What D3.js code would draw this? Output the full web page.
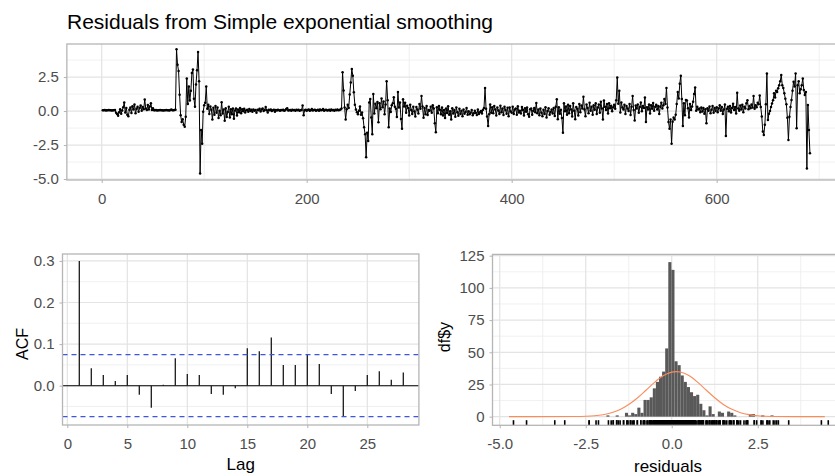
<!DOCTYPE html>
<html><head><meta charset="utf-8">
<script src="https://cdn.jsdelivr.net/npm/d3@7"></script>
<style>
html,body{margin:0;padding:0;background:#fff;}
svg text{font-family:"Liberation Sans",Arial,sans-serif;}
</style></head>
<body><svg id="c" width="835" height="476"></svg>
<script>
// ---- data ----
const title = "Residuals from Simple exponential smoothing";
const residuals = [
0.06,0.05,0.07,0.04,0.06,0.05,0.07,0.05,0.06,0.04,
0.06,0.05,0.07,-0.12,-0.21,-0.35,-0.08,0.13,-0.19,0.04,
0.28,0.62,-0.11,0.22,-0.27,-0.38,0.09,0.26,-0.14,0.36,
0.12,0.48,-0.17,0.16,0.31,-0.06,0.23,0.41,0.03,0.29,
0.14,0.85,0.18,0.07,0.44,0.11,0.33,0.58,0.08,0.21,
0.06,0.05,0.07,0.04,0.06,0.05,0.07,0.05,0.06,0.04,
0.06,0.05,0.07,0.05,0.06,0.04,0.07,0.11,0.06,0.05,
0.08,0.1,4.55,3.4,2.95,1.2,-0.3,-0.8,-0.6,-1.0,
-1.15,-0.42,2.4,0.52,1.8,0.78,1.5,2.8,3.05,0.9,
0.31,1.95,3.0,4.35,2.2,-4.6,-1.4,-2.4,-0.05,0.43,
0.61,1.8,0.17,0.47,-0.22,0.33,0.09,-0.63,0.24,-0.28,
0.38,-0.13,0.27,-0.52,0.02,-0.31,0.65,-0.18,0.12,-0.72,
0.21,-0.43,-0.07,0.32,-0.48,0.14,-0.23,0.19,-0.57,0.04,
0.18,-0.33,0.11,-0.09,0.22,-0.16,0.13,-0.02,0.17,-0.11,
0.05,0.1,-0.05,0.15,0.0,0.1,-0.05,0.12,0.02,0.08,
-0.12,0.09,0.05,0.16,-0.04,0.11,0.19,0.01,0.08,0.29,
0.05,-0.1,0.1,0.05,0.12,0.0,0.06,0.1,-0.05,0.08,
0.04,0.1,0.06,0.02,0.08,0.05,0.1,0.03,0.06,0.15,
0.2,0.04,0.06,0.08,0.02,0.1,0.05,0.07,0.03,0.09,
0.05,0.1,0.02,0.06,0.08,0.4,-0.3,0.05,0.1,0.03,
0.07,0.12,0.02,0.06,0.15,0.04,0.08,0.1,0.02,0.06,
0.09,0.03,0.12,0.05,0.07,0.15,0.02,0.08,0.1,0.04,
0.06,0.1,0.03,0.12,0.05,0.08,0.02,0.1,0.06,0.12,
0.05,0.08,0.11,0.19,2.85,1.52,0.27,-0.62,0.13,0.46,
0.23,1.21,2.1,3.1,2.6,1.38,0.47,0.12,-0.09,-0.24,
0.02,0.34,-0.28,-0.11,-0.53,-1.2,-1.7,-3.4,-1.6,-2.2,
0.62,0.88,-0.47,-1.7,1.25,-0.18,0.53,0.21,0.67,-0.83,
0.57,0.13,0.92,0.28,0.71,-0.23,0.49,2.2,0.79,-1.2,
0.18,-0.07,0.42,0.58,1.02,0.31,0.16,-0.44,1.4,0.27,
0.63,-0.58,-1.3,0.87,0.34,0.61,-0.13,0.39,0.22,-0.32,
0.47,0.08,-0.21,0.32,-0.03,-0.41,0.29,0.12,-0.18,0.52,
0.17,1.1,0.33,-0.49,0.23,-0.24,0.38,-0.29,0.07,0.02,
0.31,-0.12,0.43,0.18,-0.9,-1.55,0.28,-0.16,0.37,0.09,
-0.23,0.27,-0.32,0.08,-0.51,0.19,-0.14,0.36,-0.28,-0.02,
-0.62,0.21,-0.18,0.07,-0.42,0.26,-0.09,-0.34,0.17,-0.22,
0.03,-0.38,0.12,-0.19,-0.07,0.23,-0.27,-0.01,-0.24,-0.12,
0.08,-0.31,-0.17,0.02,-0.13,-0.29,0.11,-0.21,-0.08,0.01,
-0.18,0.09,0.22,1.7,0.17,-0.41,-1.1,-0.23,0.48,-0.12,
0.28,-0.17,0.37,0.12,-0.33,0.26,0.04,-0.22,0.39,-0.08,
0.18,-0.29,0.32,0.07,-0.19,0.24,-0.38,0.27,-0.03,-0.13,
0.31,-0.21,0.11,0.19,-0.27,0.36,-0.11,0.03,-0.18,0.29,
0.08,-0.32,0.21,-0.06,0.27,-0.23,-0.42,0.13,0.18,-0.28,
0.02,0.22,-0.09,0.6,-0.17,0.12,-0.31,0.19,-0.12,-0.39,
0.09,-0.22,0.28,-0.48,0.01,0.21,-0.27,-0.07,0.12,-0.18,
0.23,-0.37,0.31,0.86,-0.6,0.28,-0.19,0.09,-0.52,-1.6,
0.58,-0.02,0.33,-0.28,0.47,-0.17,0.38,0.11,-0.41,0.57,
0.03,-0.61,0.29,0.17,-0.32,0.52,-0.08,0.41,0.19,1.05,
0.12,-0.38,0.49,0.23,-0.17,0.61,0.02,0.32,-0.27,0.42,
0.09,0.57,-0.21,0.27,0.48,-0.12,0.68,0.18,-0.62,0.77,
0.32,0.07,0.51,-0.18,0.58,0.21,0.39,-0.02,0.28,0.47,
0.17,0.8,2.47,0.53,1.5,-0.11,0.62,0.27,0.12,0.46,
-0.22,0.37,0.18,0.01,0.52,-0.29,0.31,1.1,0.08,-0.7,
0.41,0.19,0.48,-0.13,0.29,0.63,-0.02,0.38,0.22,1.0,
-0.8,0.28,0.12,0.49,-0.18,0.42,0.17,0.59,0.03,0.31,
0.47,0.11,0.38,-0.21,0.32,0.61,0.18,0.43,0.88,0.52,
1.7,0.27,-0.8,-1.3,-0.62,-2.4,-0.78,-0.47,-0.63,-0.28,
0.51,1.4,0.92,2.0,2.6,0.88,-1.1,0.57,-0.31,0.82,
0.77,0.21,-0.48,0.52,0.08,0.33,0.68,1.25,1.74,0.02,
0.31,0.12,0.18,-0.09,0.27,-0.03,0.22,-0.19,0.13,-0.9,
0.21,0.02,0.33,-0.17,0.09,0.38,-0.12,0.23,0.01,0.28,
-0.08,0.19,0.42,0.03,0.29,-0.21,0.11,0.48,-1.84,0.17,
0.32,-0.01,0.37,-0.11,0.22,0.53,0.08,0.29,-0.18,1.35,
0.18,0.03,0.41,0.12,0.47,-0.09,0.31,0.19,0.58,0.8,
0.13,0.38,0.21,0.49,0.27,1.1,0.17,0.42,0.28,0.61,
0.5,1.15,0.3,-0.4,-1.5,-1.76,-1.0,0.5,2.77,-0.66,
-0.2,0.0,0.3,0.56,0.8,1.3,1.0,1.5,1.4,1.67,
1.9,2.2,2.65,1.9,1.7,1.3,0.9,0.5,-0.5,-2.13,
-0.42,0.3,0.81,1.5,2.16,1.8,2.77,-1.27,1.9,2.2,
1.3,1.6,1.9,2.4,1.55,1.18,1.4,-4.22,0.44,-1.4,
-3.11
];
const acfLags = [1,2,3,4,5,6,7,8,9,10,11,12,13,14,15,16,17,18,19,20,21,22,23,24,25,26,27,28];
const acfValues = [0.300,0.042,0.026,0.011,0.026,-0.022,-0.053,0.002,0.066,0.028,0.026,-0.020,-0.022,-0.006,0.090,0.083,0.116,0.050,0.050,0.075,0.052,-0.020,-0.075,-0.013,0.026,0.035,0.014,0.032];
const acfBound = 0.0745;
const histBinWidth = 0.09;
const histX0 = [-1.90,-1.81,-1.72,-1.63,-1.54,-1.45,-1.36,-1.27,-1.18,-1.09,-1.00,-0.91,-0.82,-0.73,-0.64,-0.55,-0.46,-0.37,-0.28,-0.19,-0.10,-0.01,0.08,0.17,0.26,0.35,0.44,0.53,0.62,0.71,0.80,0.89,0.98,1.07,1.16,1.25,1.34,1.43,1.52,1.61,1.70,1.79,1.88,1.97,2.06,2.15,2.24,2.33,2.42,2.51,2.60,2.69,2.78,2.87];
const histCounts = [1,0,0,1,0,0,3,1,3,2,7,3,13,13,15,22,27,31,35,53,120,114,43,40,32,27,23,19,16,17,10,5,1,8,2,0,4,3,0,4,3,1,0,0,0,0,2,2,0,0,1,0,0,1];
const normalX = [-4.73,-2.75,-2.5,-2.25,-2.0,-1.75,-1.5,-1.25,-1.0,-0.75,-0.5,-0.25,0.0,0.13,0.25,0.5,0.75,1.0,1.25,1.5,1.75,2.0,2.25,2.5,2.75,3.0,4.45];
const normalY = [0,0.1,0.3,0.7,1.5,3.0,5.6,9.4,14.5,20.5,26.6,31.7,34.6,35,34.7,31.9,26.8,20.7,14.7,9.5,5.7,3.1,1.6,0.7,0.3,0.1,0];
const topXTicks = [0,200,400,600], topXLabels = ["0","200","400","600"];
const topYTicks = [-5,-2.5,0,2.5], topYLabels = ["-5.0","-2.5","0.0","2.5"];
const acfXTicks = [0,5,10,15,20,25], acfXLabels = ["0","5","10","15","20","25"];
const acfYTicks = [0,0.1,0.2,0.3], acfYLabels = ["0.0","0.1","0.2","0.3"];
const histXTicks = [-5,-2.5,0,2.5], histXLabels = ["-5.0","-2.5","0.0","2.5"];
const histYTicks = [0,25,50,75,100,125], histYLabels = ["0","25","50","75","100","125"];

// ---- drawing ----
const svg = d3.select("#c");
const GRID = "#e3e3e3", BORDER = "#b5b5b5", TXT = "#4d4d4d";

function panel(xs, ys, xMajor, xMinor, yMajor, yMinor) {
  const g = svg.append("g");
  const [x0, x1] = xs.range(), [y0, y1] = ys.range();
  g.append("rect").attr("x", x0).attr("y", y1).attr("width", x1 - x0).attr("height", y0 - y1).attr("fill", "#fff");
  g.selectAll(".vmin").data(xMinor).join("line").attr("x1", d => xs(d)).attr("x2", d => xs(d)).attr("y1", y0).attr("y2", y1).attr("stroke", "#ececec").attr("stroke-width", 0.8);
  g.selectAll(".hmin").data(yMinor).join("line").attr("y1", d => ys(d)).attr("y2", d => ys(d)).attr("x1", x0).attr("x2", x1).attr("stroke", "#ececec").attr("stroke-width", 0.8);
  g.selectAll(".vmaj").data(xMajor).join("line").attr("x1", d => xs(d)).attr("x2", d => xs(d)).attr("y1", y0).attr("y2", y1).attr("stroke", GRID).attr("stroke-width", 1.2);
  g.selectAll(".hmaj").data(yMajor).join("line").attr("y1", d => ys(d)).attr("y2", d => ys(d)).attr("x1", x0).attr("x2", x1).attr("stroke", GRID).attr("stroke-width", 1.2);
  return g;
}
function border(xs, ys) {
  const [x0, x1] = xs.range(), [y0, y1] = ys.range();
  svg.append("rect").attr("x", x0).attr("y", y1).attr("width", x1 - x0).attr("height", y0 - y1)
    .attr("fill", "none").attr("stroke", BORDER).attr("stroke-width", 1.3);
}
function axes(xs, ys, xt, xl, yt, yl) {
  const ax = svg.append("g").attr("transform", `translate(0,${ys.range()[0]})`)
    .call(d3.axisBottom(xs).tickValues(xt).tickFormat((d, i) => xl[i]).tickSize(3).tickPadding(10));
  const ay = svg.append("g").attr("transform", `translate(${xs.range()[0]},0)`)
    .call(d3.axisLeft(ys).tickValues(yt).tickFormat((d, i) => yl[i]).tickSize(3).tickPadding(5));
  [ax, ay].forEach(a => {
    a.select(".domain").remove();
    a.selectAll(".tick line").attr("stroke", "#b3b3b3");
    a.selectAll(".tick text").attr("fill", TXT).style("font-size", "15px").style("font-family", '"Liberation Sans",Arial,sans-serif');
  });
}

// Top: residual series
const tx = d3.scaleLinear().domain([-34, 725]).range([66.85, 844.8]);
const ty = d3.scaleLinear().domain([-5.07, 4.93]).range([180, 44]);
panel(tx, ty, [0,200,400,600], [100,300,500,700], [-5,-2.5,0,2.5], [-3.75,-1.25,1.25,3.75]);
const series = residuals.map((v, i) => [i + 1, v]);
svg.append("path").datum(series)
  .attr("d", d3.line().x(d => tx(d[0])).y(d => ty(d[1])))
  .attr("fill", "none").attr("stroke", "#000").attr("stroke-width", 1.0);
svg.append("g").selectAll("circle").data(series).join("circle")
  .attr("cx", d => tx(d[0])).attr("cy", d => ty(d[1])).attr("r", 1.25).attr("fill", "#000");
border(tx, ty);
axes(tx, ty, topXTicks, topXLabels, topYTicks, topYLabels);
svg.append("text").attr("x", 67).attr("y", 29).text(title)
  .style("font-size", "21px").attr("fill", "#000");

// ACF panel
const ax = d3.scaleLinear().domain([-0.4, 29.3]).range([62.5, 418.9]);
const ay = d3.scaleLinear().domain([-0.0945, 0.3166]).range([425, 254]);
panel(ax, ay, [0,5,10,15,20,25], [], [0,0.1,0.2,0.3], [-0.05,0.05,0.15,0.25]);
svg.append("line").attr("x1", ax.range()[0]).attr("x2", ax.range()[1]).attr("y1", ay(0)).attr("y2", ay(0)).attr("stroke", "#000").attr("stroke-width", 1.1);
svg.append("g").selectAll("line").data(acfLags).join("line")
  .attr("x1", d => ax(d)).attr("x2", d => ax(d))
  .attr("y1", ay(0)).attr("y2", (d, i) => ay(acfValues[i]))
  .attr("stroke", "#1a1a1a").attr("stroke-width", 1.3);
[acfBound, -acfBound].forEach(b => {
  svg.append("line").attr("x1", ax.range()[0]).attr("x2", ax.range()[1]).attr("y1", ay(b)).attr("y2", ay(b))
    .attr("stroke", "#3d55e0").attr("stroke-width", 1.3).attr("stroke-dasharray", "5,4");
});
border(ax, ay);
axes(ax, ay, acfXTicks, acfXLabels, acfYTicks, acfYLabels);
svg.append("text").attr("transform", "translate(28,344) rotate(-90)").attr("text-anchor", "middle")
  .text("ACF").style("font-size", "16px").attr("fill", "#000");
svg.append("text").attr("x", 240.7).attr("y", 470).attr("text-anchor", "middle")
  .text("Lag").style("font-size", "17px").attr("fill", "#000");

// Histogram panel
const hx = d3.scaleLinear().domain([-5.21, 4.9]).range([492.5, 840.3]);
const hy = d3.scaleLinear().domain([-6.7, 126]).range([425.3, 254.4]);
panel(hx, hy, [-5,-2.5,0,2.5], [-3.75,-1.25,1.25,3.75], [0,25,50,75,100,125], [12.5,37.5,62.5,87.5,112.5]);
svg.append("g").selectAll("rect").data(histX0.map((x, i) => ({x, c: histCounts[i]})).filter(d => d.c > 0)).join("rect")
  .attr("x", d => hx(d.x)).attr("width", d => hx(d.x + histBinWidth) - hx(d.x))
  .attr("y", d => hy(d.c)).attr("height", d => hy(0) - hy(d.c)).attr("fill", "#595959");
svg.append("path").datum(normalX.map((x, i) => [x, normalY[i]]))
  .attr("d", d3.line().x(d => hx(d[0])).y(d => hy(d[1])).curve(d3.curveMonotoneX))
  .attr("fill", "none").attr("stroke", "#fa8c5c").attr("stroke-width", 1.1);
const rugLen = (hy.range()[0] - hy.range()[1]) * 0.03;
svg.append("g").selectAll("line").data(residuals).join("line")
  .attr("x1", d => hx(d)).attr("x2", d => hx(d))
  .attr("y1", hy.range()[0]).attr("y2", hy.range()[0] - rugLen)
  .attr("stroke", "#000").attr("stroke-width", 1.6);
border(hx, hy);
axes(hx, hy, histXTicks, histXLabels, histYTicks, histYLabels);
svg.append("text").attr("transform", "translate(450,337) rotate(-90)").attr("text-anchor", "middle")
  .text("df$y").style("font-size", "16px").attr("fill", "#000");
svg.append("text").attr("x", 668).attr("y", 472).attr("text-anchor", "middle")
  .text("residuals").style("font-size", "17px").attr("fill", "#000");
</script></body></html>
